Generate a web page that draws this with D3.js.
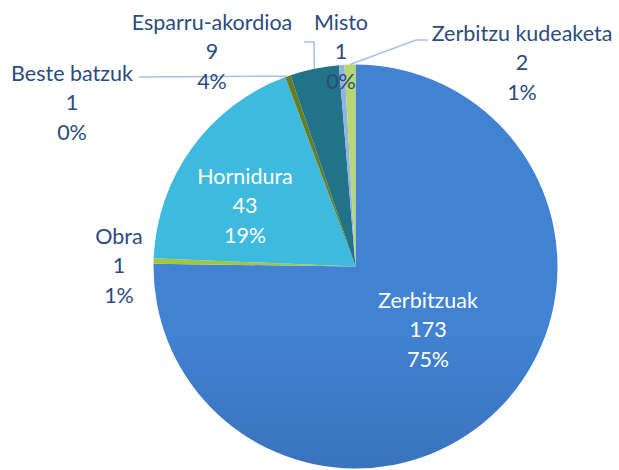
<!DOCTYPE html>
<html>
<head>
<meta charset="utf-8">
<script src="https://cdn.jsdelivr.net/npm/d3@7"></script>
<style>
  body { margin: 0; background: #fff; }
  svg { display: block; }
  .lbl { font-family: Lato, "Open Sans", sans-serif; font-size: 21.5px; }
</style>
</head>
<body>
<svg id="pie-chart" width="619" height="470"></svg>
<script>
// data, clockwise from 12 o'clock
const categories = ["Zerbitzuak", "Obra", "Hornidura", "Beste batzuk", "Esparru-akordioa", "Misto", "Zerbitzu kudeaketa"];
const values = [173, 1, 43, 1, 9, 1, 2];
const percentLabels = ["75%", "1%", "19%", "0%", "4%", "0%", "1%"];

// styling: gradient top / bottom colour per slice
const colorTop = ["#4182d2", "#a3c63f", "#3dbade", "#6a7d1d", "#217389", "#90b3e4", "#b8d672"];
const colorBottom = ["#2b5692", "#8aab30", "#176476", "#56661a", "#0e4150", "#7a9dcf", "#a2c160"];
const labelColor = "#2b4c7e";
const leaderColor = "#a7c2e8";

// label placement: text center x, first line center y, inside or not, leader bend points
const labelLayout = [
  { x: 428, y: 300, inside: true },
  { x: 119, y: 236 },
  { x: 245, y: 176, inside: true },
  { x: 72, y: 73, leader: [[139, 77]] },
  { x: 212, y: 22, leader: [[304, 42], [314, 42]] },
  { x: 341, y: 22 },
  { x: 522, y: 33, leader: [[428, 40], [416, 40]] },
];

const cx = 355.5;
const cy = 266.5;
const radius = 202;
const lineGap = 29.5;

const svg = d3.select("#pie-chart");
const defs = svg.append("defs");

colorTop.forEach((c, i) => {
  const grad = defs.append("linearGradient")
    .attr("id", `grad-${i}`)
    .attr("gradientUnits", "userSpaceOnUse")
    .attr("x1", 0).attr("x2", 0)
    .attr("y1", cy - radius).attr("y2", cy + radius);
  grad.append("stop").attr("offset", "0%").attr("stop-color", c);
  grad.append("stop").attr("offset", "100%").attr("stop-color", colorBottom[i]);
});

const data = categories.map((name, i) => ({ name, value: values[i], pct: percentLabels[i], i }));

const pie = d3.pie().value((d) => d.value).sort(null);
const arc = d3.arc().innerRadius(0).outerRadius(radius);
const arcs = pie(data);

const g = svg.append("g").attr("transform", `translate(${cx},${cy})`);

g.selectAll("path.slice")
  .data(arcs)
  .join("path")
  .attr("class", "slice")
  .attr("d", arc)
  .attr("fill", (d) => `url(#grad-${d.data.i})`);

// leader lines
const leaders = svg.append("g");
arcs.forEach((a) => {
  const lay = labelLayout[a.data.i];
  if (!lay.leader) return;
  const mid = (a.startAngle + a.endAngle) / 2;
  const end = [cx + radius * Math.sin(mid), cy - radius * Math.cos(mid)];
  const pts = lay.leader.concat([end]);
  leaders.append("path")
    .attr("d", d3.line()(pts))
    .attr("fill", "none")
    .attr("stroke", leaderColor)
    .attr("stroke-width", 1.5);
});

// labels
const labels = svg.append("g");
arcs.forEach((a) => {
  const lay = labelLayout[a.data.i];
  const lines = [a.data.name, String(a.data.value), a.data.pct];
  const t = labels.append("text")
    .attr("class", "lbl")
    .attr("text-anchor", "middle")
    .attr("fill", lay.inside ? "#ffffff" : labelColor);
  lines.forEach((s, k) => {
    t.append("tspan")
      .attr("x", lay.x)
      .attr("y", lay.y + k * lineGap)
      .attr("dy", "0.35em")
      .text(s);
  });
});
</script>
</body>
</html>
